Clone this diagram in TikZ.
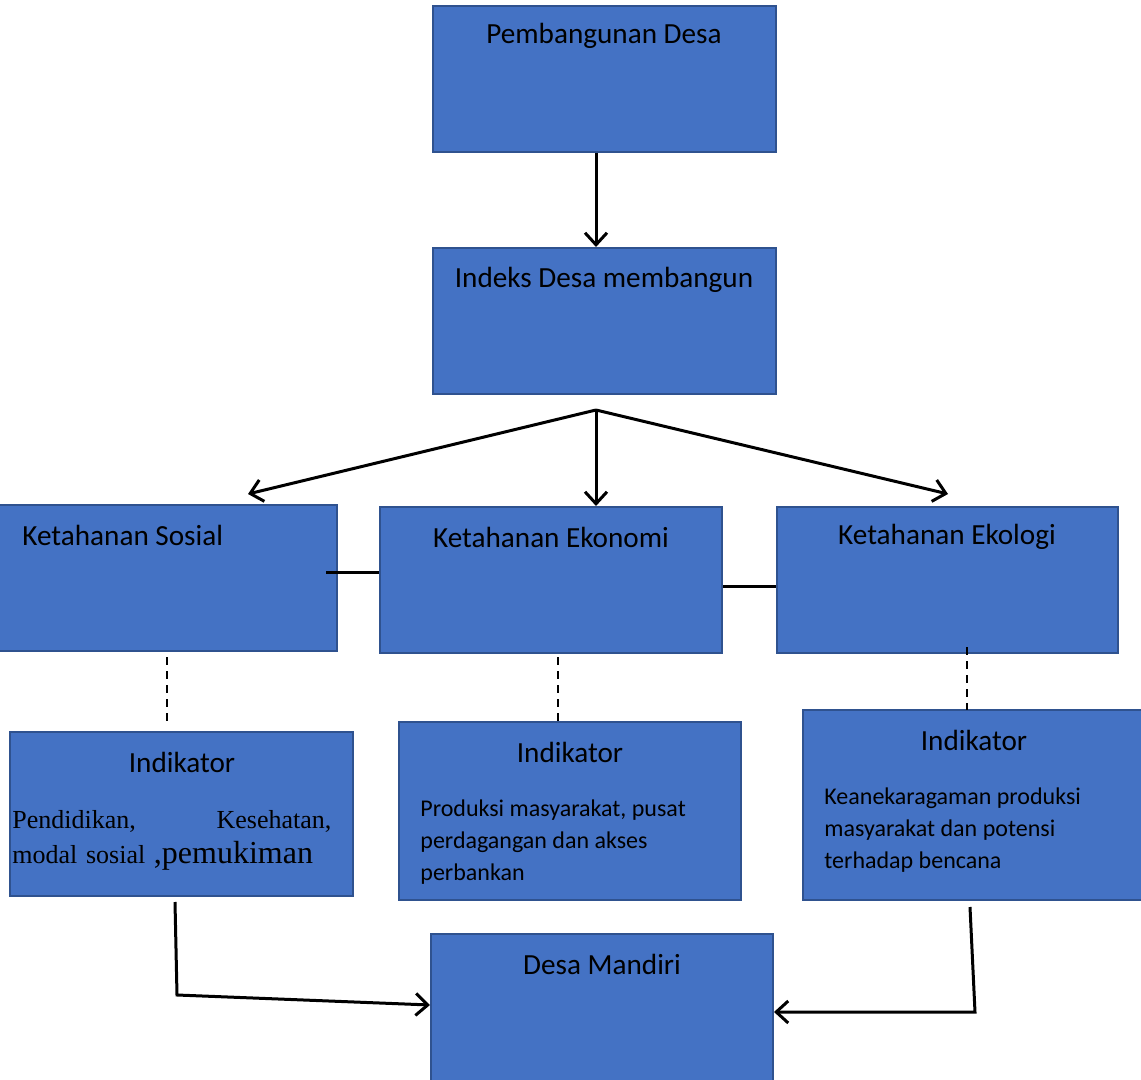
\documentclass[tikz,border=0pt]{standalone}
\usepackage{fontspec}
\setmainfont{Carlito}
\newfontfamily\timesfont{Liberation Serif}
\usetikzlibrary{arrows.meta,fit}
\definecolor{boxfill}{HTML}{4472C4}
\definecolor{boxline}{HTML}{2F528F}
\tikzset{
  box/.style={draw=boxline, fill=boxfill, line width=1pt, inner sep=0pt},
  judul/.style={font=\fontsize{14.6}{17}\selectfont, inner sep=0pt},
  isi/.style={font=\fontsize{12}{16}\selectfont, inner sep=0pt,
    anchor=north west, align=left},
  panah/.style={line width=1.5pt, -{Straight Barb[length=6pt,width=11pt]}},
  garis/.style={line width=1.5pt},
  putus/.style={line width=0.7pt, dash pattern=on 4pt off 3pt}
}
\begin{document}
\begin{tikzpicture}[x=0.5pt, y=-0.5pt]
\useasboundingbox (0,0) rectangle (1141,1080);

% kotak utama
\node[box, fit={(433,6) (776,152)}] (pd) {};
\node[box, fit={(433,248) (776,394)}] (idm) {};
\node[box, fit={(-4,505) (337,651)}] (sos) {};
\node[box, fit={(380,507) (722,653)}] (eko) {};
\node[box, fit={(777,507) (1118,653)}] (ekl) {};
\node[box, fit={(10,732) (353,896)}] (ind1) {};
\node[box, fit={(399,722) (741,900)}] (ind2) {};
\node[box, fit={(803,710) (1145,900)}] (ind3) {};
\node[box, fit={(431,934) (773,1084)}] (dm) {};

% judul
\node[judul] (pd-t) at (604,36) {Pembangunan Desa};
\node[judul] (idm-t) at (604,280) {Indeks Desa membangun};
\node[judul, anchor=west] (sos-t) at (22,535) {Ketahanan Sosial};
\node[judul] (eko-t) at (551,537) {Ketahanan Ekonomi};
\node[judul] (ekl-t) at (947,537) {Ketahanan Ekologi};
\node[judul] (ind1-t) at (182,762) {Indikator};
\node[judul] (ind2-t) at (570,752) {Indikator};
\node[judul] (ind3-t) at (974,740) {Indikator};
\node[judul] (dm-t) at (602,964) {Desa Mandiri};

% isi indikator
\node[inner sep=0pt, anchor=north west, text width=159.5pt,
  font=\timesfont\fontsize{13}{17.5}\selectfont] (ind1-isi) at (12,810)
  {\noindent Pendidikan,\hfill Kesehatan,\\
   \mbox{modal sosial {\fontsize{16}{17.5}\selectfont ,pemukiman}}};
\node[isi] (ind2-isi) at (420,799)
  {Produksi masyarakat, pusat\\ perdagangan dan akses\\ perbankan};
\node[isi] (ind3-isi) at (824,787)
  {Keanekaragaman produksi\\ masyarakat dan potensi\\ terhadap bencana};

% panah
\draw[panah] (pd.south -| 596,0) -- (idm.north -| 596,0);
\coordinate (cabang) at (596,410);
\coordinate (ujung-s) at (248,494);
\coordinate (ujung-e) at (948,494);
\draw[panah] (cabang) -- (ujung-s);
\draw[panah] (cabang) -- (eko.north -| cabang);
\draw[panah] (cabang) -- (ujung-e);

% penghubung
\draw[garis] (326,573) -- (eko.west |- 0,573);
\draw[garis] (eko.east |- 0,586) -- (ekl.west |- 0,586);

\draw[putus] (167,657) -- (167,722);
\draw[putus] (558,657) -- (558,722);
\draw[putus] (967,647) -- (967,710);

\draw[panah] (175,902) -- (177,995) -- (dm.west |- 0,1005);
\draw[panah] (970,907) -- (975,1012) -- (dm.east |- 0,1012);

\end{tikzpicture}
\end{document}
